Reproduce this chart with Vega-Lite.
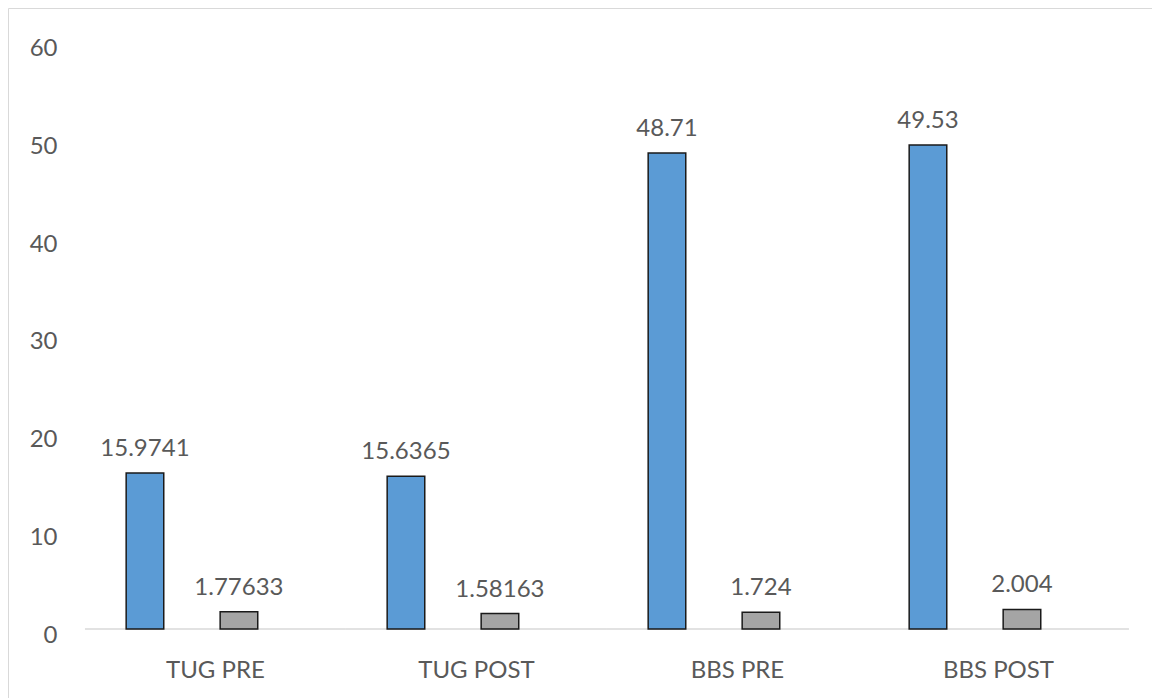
{
  "$schema": "https://vega.github.io/schema/vega-lite/v6.json",
  "width": 1148,
  "height": 694,
  "autosize": {"type": "none"},
  "padding": {"left": 8, "top": 8, "right": -4, "bottom": -4},
  "background": "white",
  "config": {
    "view": {"stroke": "#D9D9D9", "strokeWidth": 1},
    "font": "Lato",
    "axis": {"labelFont": "Lato", "labelFontSize": 24, "labelColor": "#595959", "grid": false, "domain": false, "ticks": false, "title": null}
  },
  "data": {
    "values": [
      {"test": "TUG PRE", "stat": "mean", "value": 15.9741},
      {"test": "TUG PRE", "stat": "sd", "value": 1.77633},
      {"test": "TUG POST", "stat": "mean", "value": 15.6365},
      {"test": "TUG POST", "stat": "sd", "value": 1.58163},
      {"test": "BBS PRE", "stat": "mean", "value": 48.71},
      {"test": "BBS PRE", "stat": "sd", "value": 1.724},
      {"test": "BBS POST", "stat": "mean", "value": 49.53},
      {"test": "BBS POST", "stat": "sd", "value": 2.004}
    ]
  },
  "encoding": {
    "x": {
      "field": "test",
      "type": "nominal",
      "sort": null,
      "scale": {"paddingInner": 0, "paddingOuter": 0.1992, "align": 0.74},
      "axis": {"orient": "bottom", "offset": -73, "labelPadding": 29, "labelAngle": 0}
    },
    "y": {
      "field": "value",
      "type": "quantitative",
      "scale": {"domain": [-7.47, 63.56], "nice": false, "zero": false},
      "axis": {"orient": "left", "offset": -55, "labelPadding": 6, "labelOffset": 6, "values": [0, 10, 20, 30, 40, 50, 60]}
    }
  },
  "layer": [
    {
      "transform": [{"filter": "datum.stat == 'mean'"}],
      "mark": {"type": "rule", "color": "#D9D9D9", "strokeWidth": 1.5},
      "encoding": {
        "x": {"field": "test", "type": "nominal", "sort": null, "bandPosition": 0},
        "x2": {"field": "test", "bandPosition": 1},
        "y": {"datum": 0}
      }
    },
    {
      "mark": {"type": "bar", "stroke": "#1a1a1a", "strokeWidth": 1.5},
      "encoding": {
        "xOffset": {"field": "stat", "scale": {"domain": ["mean", "blank1", "sd", "blank2"], "paddingInner": 0.2, "paddingOuter": 0.877}},
        "y2": {"datum": 0},
        "color": {"field": "stat", "type": "nominal", "scale": {"domain": ["mean", "sd"], "range": ["#5B9BD5", "#A5A5A5"]}, "legend": null}
      }
    },
    {
      "mark": {"type": "text", "dy": -17, "baseline": "alphabetic", "fontSize": 24, "color": "#595959", "font": "Lato"},
      "encoding": {
        "xOffset": {"field": "stat", "scale": {"domain": ["mean", "blank1", "sd", "blank2"], "paddingInner": 0.2, "paddingOuter": 0.877}},
        "text": {"field": "value", "type": "quantitative"}
      }
    }
  ]
}
